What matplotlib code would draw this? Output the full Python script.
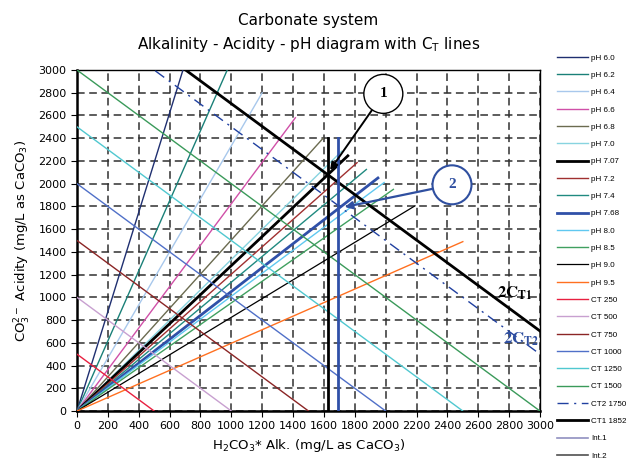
import matplotlib.pyplot as plt
from matplotlib.lines import Line2D

# pH lines: from origin to end point (mg/L as CaCO3)
ph_labels = ['pH 6.0', 'pH 6.2', 'pH 6.4', 'pH 6.6', 'pH 6.8', 'pH 7.0', 'pH 7.07',
             'pH 7.2', 'pH 7.4', 'pH 7.68', 'pH 8.0', 'pH 8.5', 'pH 9.0', 'pH 9.5']
ph_x_end = [745, 980, 1200, 1415, 1595, 1715, 1755, 1815, 1875, 1950, 1990, 2050, 2190, 2500]
ph_y_end = [3255, 3020, 2800, 2580, 2400, 2285, 2245, 2185, 2125, 2050, 2010, 1950, 1805, 1490]
ph_colors = ['#1f2f70', '#1a8078', '#a8c8ec', '#d050a8', '#6b6b50', '#88d4e0', 'black',
             '#a03030', '#208a80', '#3050a8', '#60c8f0', '#40a060', 'black', '#ff7020']
ph_widths = [1, 1, 1, 1, 1, 1, 2, 1, 1, 2, 1, 1, 0.9, 1]

# CT lines: x + y = 2*CT
ct_labels = ['CT 250', 'CT 500', 'CT 750', 'CT 1000', 'CT 1250', 'CT 1500', 'CT2 1750', 'CT1 1852']
ct_values = [250, 500, 750, 1000, 1250, 1500, 1750, 1852]
ct_colors = ['#e82040', '#c8a0d0', '#8b2525', '#5070c8', '#50c8d0', '#3a9a5a', '#2040a0', 'black']
ct_styles = ['-', '-', '-', '-', '-', '-', (0, (8, 4, 1.5, 4)), '-']
ct_widths = [1, 1, 1, 1, 1, 1, 1, 2]

# intersection verticals
int_labels = ['Int.1', 'Int.2']
int_x = [1625, 1690]
int_top = [2400, 2400]
int_colors = ['black', '#3050a8']
int_legend_colors = ['#9090c0', '#505050']

fig = plt.figure(figsize=(6.27, 4.67), dpi=100)
ax = fig.add_axes([0.1228, 0.1199, 0.7384, 0.7302])
plt.rcParams['font.family'] = ['Liberation Sans', 'DejaVu Sans']

handles = []
for lab, xe, ye, c, lw in zip(ph_labels, ph_x_end, ph_y_end, ph_colors, ph_widths):
    l, = ax.plot([0, xe], [0, ye], color=c, lw=lw, label=lab, zorder=3)
    handles.append(l)
for lab, ct, c, ls, lw in zip(ct_labels, ct_values, ct_colors, ct_styles, ct_widths):
    l, = ax.plot([0, 2 * ct], [2 * ct, 0], color=c, lw=lw, ls=ls, label=lab, zorder=3)
    handles.append(l)
for lab, xv, top, c, lc in zip(int_labels, int_x, int_top, int_colors, int_legend_colors):
    ax.plot([xv, xv], [0, top], color=c, lw=2, zorder=4)
    handles.append(Line2D([], [], color=lc, lw=1.2, label=lab))

ax.set_xlim(0, 3000)
ax.set_ylim(0, 3000)
ax.set_xticks(range(0, 3001, 200))
ax.set_yticks(range(0, 3001, 200))
ax.tick_params(labelsize=8, length=4, direction='out')
ax.grid(True, color='#303030', ls=(0, (5, 3)), lw=1.1)
for s in ['left', 'bottom']:
    ax.spines[s].set_linewidth(1.8)
for s in ['top', 'right']:
    ax.spines[s].set_linewidth(1.0)

ax.set_title('Carbonate system\nAlkalinity - Acidity - pH diagram with C$_\\mathregular{T}$ lines',
             fontsize=11, linespacing=1.5, pad=15)
ax.set_xlabel('H$_\\mathregular{2}$CO$_\\mathregular{3}$* Alk. (mg/L as CaCO$_\\mathregular{3}$)', fontsize=9.5)
ax.set_ylabel('CO$_\\mathregular{3}^\\mathregular{2-}$ Acidity (mg/L as CaCO$_\\mathregular{3}$)', fontsize=9.5)

ax.annotate('1', xy=(1640, 2120), xytext=(1985, 2790), fontsize=11, fontweight='bold',
            family='Liberation Serif', ha='center', va='center',
            bbox=dict(boxstyle='circle,pad=0.85', fc='white', ec='black', lw=1),
            arrowprops=dict(arrowstyle='-|>', color='black', lw=1.4, shrinkA=0, shrinkB=0),
            zorder=6)
ax.annotate('2', xy=(1735, 1795), xytext=(2430, 1990), fontsize=11, fontweight='bold',
            color='#2f4fa0', family='Liberation Serif', ha='center', va='center',
            bbox=dict(boxstyle='circle,pad=0.85', fc='white', ec='#2f4fa0', lw=1.5),
            arrowprops=dict(arrowstyle='-|>', color='#2f4fa0', lw=1.6, shrinkA=0, shrinkB=0),
            zorder=6)

ax.text(2722, 994, r'$\mathbf{2C_{T1}}$', fontsize=12, math_fontfamily='stix', color='black')
ax.text(2760, 590, r'$\mathbf{2C_{T2}}$', fontsize=12, math_fontfamily='stix', color='#2f4fa0')

fig.legend(handles=handles, loc='upper left', bbox_to_anchor=(0.882, 0.893), frameon=False,
           fontsize=5.8, handlelength=3.9, handletextpad=0.3, labelspacing=1.2, borderpad=0)

fig.savefig('out.png', dpi=100)
